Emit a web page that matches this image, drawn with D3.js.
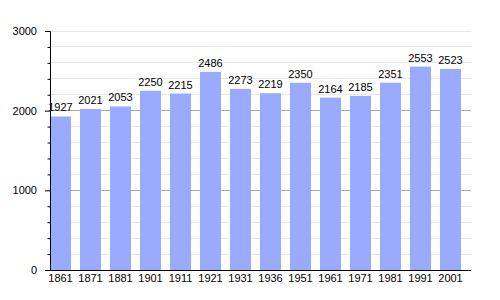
<!DOCTYPE html>
<meta charset="utf-8">
<style>
  body { margin: 0; background: #fff; }
  svg { font: 11px "Liberation Sans", Arial, sans-serif; }
  .grid line { shape-rendering: crispEdges; }
</style>
<body>
<script src="https://cdn.jsdelivr.net/npm/d3@7"></script>
<script>
  // census years and population
  var years = ["1861", "1871", "1881", "1901", "1911", "1921", "1931", "1936", "1951", "1961", "1971", "1981", "1991", "2001"];
  var population = [1927, 2021, 2053, 2250, 2215, 2486, 2273, 2219, 2350, 2164, 2185, 2351, 2553, 2523];
  var majorTicks = [0, 1000, 2000, 3000];
  var minorTicks = d3.range(0, 3001, 200);

  var width = 500, height = 300,
    plotLeft = 50, plotRight = 471, plotTop = 31, plotBottom = 270;

  var svg = d3.select("body").append("svg")
    .attr("width", width)
    .attr("height", height);

  var x = d3.scaleBand()
    .domain(years)
    .range([plotLeft, 461])
    .paddingInner(0.3)
    .paddingOuter(0);

  var y = d3.scaleLinear()
    .domain([0, 3000])
    .range([plotBottom, plotTop]);

  // grid lines
  var grid = svg.append("g").attr("class", "grid");
  grid.selectAll("line.minor")
    .data(minorTicks.filter(function (d) { return d % 1000 !== 0 || d === 3000; }))
    .enter().append("line")
    .attr("x1", plotLeft).attr("x2", plotRight)
    .attr("y1", function (d) { return y(d); })
    .attr("y2", function (d) { return y(d); })
    .attr("stroke", "#e6e6e6");
  grid.selectAll("line.major")
    .data([1000, 2000])
    .enter().append("line")
    .attr("x1", plotLeft).attr("x2", plotRight)
    .attr("y1", function (d) { return y(d); })
    .attr("y2", function (d) { return y(d); })
    .attr("stroke", "#aaa");

  // bars
  svg.selectAll("rect.bar")
    .data(years)
    .enter().append("rect")
    .attr("class", "bar")
    .attr("x", function (d) { return x(d); })
    .attr("width", x.bandwidth())
    .attr("y", function (d, i) { return y(population[i]); })
    .attr("height", function (d, i) { return plotBottom - y(population[i]); })
    .attr("fill", "#99aaff");

  // value labels
  svg.selectAll("text.value")
    .data(years)
    .enter().append("text")
    .attr("class", "value")
    .attr("x", function (d) { return x(d) + x.bandwidth() / 2; })
    .attr("y", function (d, i) { return y(population[i]) - 5; })
    .attr("text-anchor", "middle")
    .attr("fill", "#000")
    .text(function (d, i) { return population[i]; });

  // y axis
  var yAxis = svg.append("g")
    .attr("transform", "translate(" + plotLeft + ",0)")
    .call(d3.axisLeft(y).tickValues(majorTicks).tickSize(5).tickPadding(8).tickFormat(d3.format("d")));
  yAxis.selectAll("text").style("font", "11px 'Liberation Sans', Arial, sans-serif").attr("fill", "#000");
  yAxis.select(".domain").attr("stroke", "#000");
  yAxis.selectAll(".tick line").attr("stroke", "#000");
  yAxis.selectAll("line.minor")
    .data(minorTicks.filter(function (d) { return d % 1000 !== 0; }))
    .enter().append("line")
    .attr("class", "minor")
    .attr("x1", -2.5).attr("x2", 0)
    .attr("y1", function (d) { return y(d) + 0.5; })
    .attr("y2", function (d) { return y(d) + 0.5; })
    .attr("stroke", "#000");

  // x axis
  var xAxis = svg.append("g")
    .attr("transform", "translate(0," + plotBottom + ")")
    .call(d3.axisBottom(x).tickSize(0).tickPadding(4));
  xAxis.select(".domain").remove();
  xAxis.selectAll("text").style("font", "11px 'Liberation Sans', Arial, sans-serif").attr("fill", "#000");
  xAxis.append("line")
    .attr("x1", plotLeft).attr("x2", plotRight)
    .attr("y1", 0.5).attr("y2", 0.5)
    .attr("stroke", "#000");
</script>
</body>
